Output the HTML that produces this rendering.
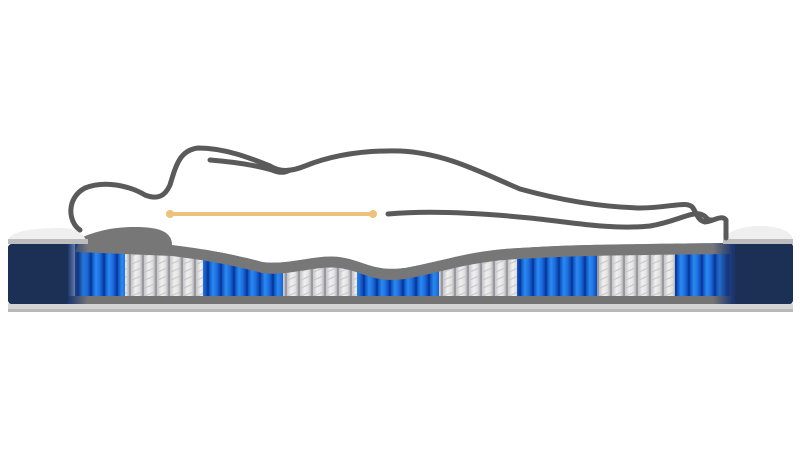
<!DOCTYPE html>
<html><head><meta charset="utf-8"><style>html,body{margin:0;padding:0;background:#fff;width:800px;height:450px;overflow:hidden}</style></head>
<body>
<svg width="800" height="450" viewBox="0 0 800 450" xmlns="http://www.w3.org/2000/svg">
<defs>
<linearGradient id="bc" x1="0" x2="1" y1="0" y2="0">
<stop offset="0" stop-color="#0d4fc0"/><stop offset="0.35" stop-color="#2a8af0"/><stop offset="0.7" stop-color="#1d6fe0"/><stop offset="1" stop-color="#0b45b0"/></linearGradient>
<linearGradient id="wc" x1="0" x2="1" y1="0" y2="0">
<stop offset="0" stop-color="#c4c4c8"/><stop offset="0.4" stop-color="#f0f0f0"/><stop offset="0.75" stop-color="#e2e2e2"/><stop offset="1" stop-color="#b4b4b8"/></linearGradient>
<pattern id="pb" width="13" height="80" patternUnits="userSpaceOnUse"><rect width="13" height="80" fill="#0a3c9e"/><rect x="1" width="11" height="80" rx="3" fill="url(#bc)"/></pattern>
<pattern id="pw" width="13" height="80" patternUnits="userSpaceOnUse"><rect width="13" height="80" fill="#9a9a9e"/><rect x="1" width="11" height="80" rx="3" fill="url(#wc)"/><path d="M2 8 L11 4 M2 16 L11 12 M2 24 L11 20 M2 32 L11 28 M2 40 L11 36 M2 48 L11 44 M2 56 L11 52 M2 64 L11 60 M2 72 L11 68" stroke="#c8c8cb" stroke-width="1"/></pattern>
<linearGradient id="navL" x1="0" x2="1"><stop offset="0" stop-color="#1c2f55"/><stop offset="0.75" stop-color="#1a3570"/><stop offset="1" stop-color="#1a3570" stop-opacity="0"/></linearGradient>
<linearGradient id="navR" x1="1" x2="0"><stop offset="0" stop-color="#1c2f55"/><stop offset="0.75" stop-color="#1a3570"/><stop offset="1" stop-color="#1a3570" stop-opacity="0"/></linearGradient>
</defs>
<rect x="8" y="302" width="785" height="10" rx="3" fill="#d4d4d4"/>
<rect x="8" y="309" width="785" height="3" fill="#b8b8b8"/>
<rect x="75" y="238" width="50" height="62" fill="url(#pb)"/>
<rect x="125" y="238" width="78" height="62" fill="url(#pw)"/>
<rect x="203" y="238" width="80" height="62" fill="url(#pb)"/>
<rect x="283" y="238" width="74" height="62" fill="url(#pw)"/>
<rect x="357" y="238" width="82" height="62" fill="url(#pb)"/>
<rect x="439" y="238" width="78" height="62" fill="url(#pw)"/>
<rect x="517" y="238" width="80" height="62" fill="url(#pb)"/>
<rect x="597" y="238" width="78" height="62" fill="url(#pw)"/>
<rect x="675" y="238" width="62" height="62" fill="url(#pb)"/>
<rect x="60" y="296" width="690" height="8" fill="#747474"/>
<path d="M70 230 L80 238 C95 232 110 227 135 227 C160 227 172 232 172 245 C195 248 225 252 262 262 C290 266 320 252 345 258 C365 262 375 272 405 268 C440 262 470 250 520 248 C580 244 650 244 735 243 L735 220 L70 220 Z" fill="#fff"/>
<path d="M80 238 C95 232 110 227 135 227 C160 227 172 232 172 245 C195 248 225 252 262 262 C290 266 320 252 345 258 C365 262 375 272 405 268 C440 262 470 250 520 248 C580 244 650 244 735 243 L735 254 C650 255 580 255 520 259 C470 261 440 273 405 279 C375 283 365 273 345 269 C320 263 290 277 262 273 C225 263 195 259 172 256 L75 252 Z" fill="#777"/>
<rect x="8" y="244" width="80" height="60" rx="4" fill="url(#navL)"/>
<rect x="713" y="243" width="80" height="61" rx="4" fill="url(#navR)"/>
<rect x="8" y="244" width="60" height="60" rx="4" fill="#1c2f55"/>
<rect x="735" y="243" width="58" height="61" rx="4" fill="#1c2f55"/>
<path d="M8 240 C10 232 30 228 60 228 C75 228 82 232 86 240 L86 244 L8 244 Z" fill="#efefef"/>
<rect x="8" y="239" width="80" height="5" fill="#bdbdbd"/>
<path d="M723 240 C726 232 740 226 760 226 C780 226 792 232 793 240 L793 244 L723 244 Z" fill="#efefef"/>
<rect x="723" y="239" width="70" height="5" fill="#bdbdbd"/>
<g fill="none" stroke="#5a5a5a" stroke-width="5" stroke-linecap="round" stroke-linejoin="round">
<path d="M80 230 C68 222 66 198 85 188 C105 180 130 186 145 195 C158 200 165 196 170 185 C176 165 180 150 198 148 C225 148 250 158 270 166 C280 172 290 172 305 166 C330 156 360 150 400 151 C445 153 480 172 520 189 C560 200 600 207 640 208 C670 208 688 200 693 208 C698 216 698 220 705 222 C712 222 722 214 726 220 L726 238"/>
<path d="M210 160 C235 162 255 165 272 170 C282 174 286 172 290 170"/>
<path d="M388 214 C430 210 480 213 530 218 C570 222 610 230 650 226 C675 222 690 212 700 214 C708 216 705 220 712 220"/>
</g>
<line x1="170" y1="214" x2="373" y2="214" stroke="#eec27a" stroke-width="4" stroke-linecap="round"/>
<circle cx="170" cy="214" r="4" fill="#eec27a"/>
<circle cx="373" cy="214" r="4" fill="#eec27a"/>
</svg>
</body></html>
